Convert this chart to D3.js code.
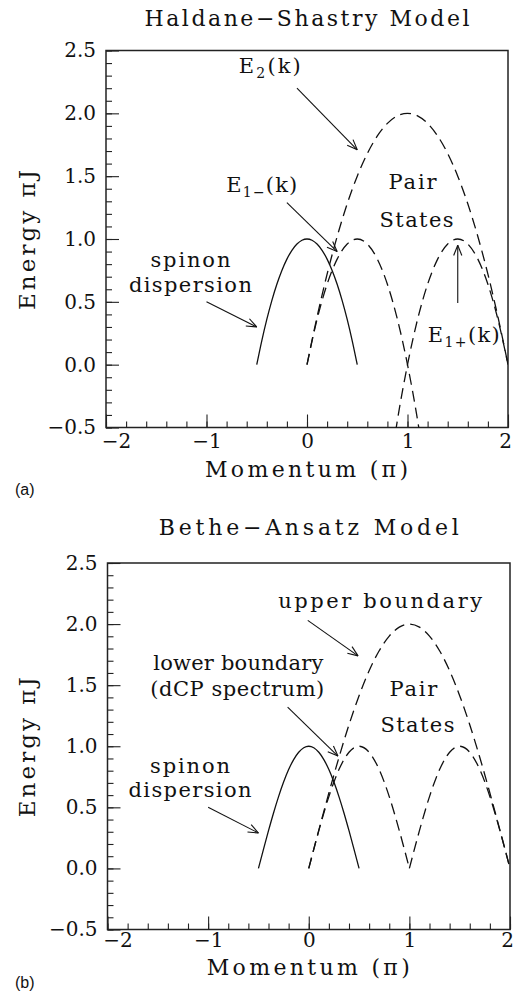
<!DOCTYPE html>
<html>
<head>
<meta charset="utf-8">
<script src="https://cdn.jsdelivr.net/npm/d3@7"></script>
<style>
  body { margin: 0; background: #fff; }
  svg { display: block; }
  text { font-family: "DejaVu Serif", serif; fill: #111; }
  .tag { font-family: "Liberation Sans", Arial, sans-serif; }
</style>
</head>
<body>
<svg id="chart" width="514" height="992"></svg>
<script>
// momentum grids (units of pi)
const kSpinon = [-0.5, -0.45, -0.4, -0.35, -0.3, -0.25, -0.2, -0.15, -0.1, -0.05, 0,
  0.05, 0.1, 0.15, 0.2, 0.25, 0.3, 0.35, 0.4, 0.45, 0.5];
const kUpper = [0, 0.1, 0.2, 0.3, 0.4, 0.5, 0.6, 0.7, 0.8, 0.9, 1,
  1.1, 1.2, 1.3, 1.4, 1.5, 1.6, 1.7, 1.8, 1.9, 2];

// (a) Haldane-Shastry, energies (units of pi J)
const hsSpinonE = [0, 0.19, 0.36, 0.51, 0.64, 0.75, 0.84, 0.91, 0.96, 0.99, 1,
  0.99, 0.96, 0.91, 0.84, 0.75, 0.64, 0.51, 0.36, 0.19, 0];
const hsUpperE = [0, 0.38, 0.72, 1.02, 1.28, 1.5, 1.68, 1.82, 1.92, 1.98, 2,
  1.98, 1.92, 1.82, 1.68, 1.5, 1.28, 1.02, 0.72, 0.38, 0];
const hsMinusK = [0, 0.1, 0.2, 0.3, 0.4, 0.5, 0.6, 0.7, 0.8, 0.9, 1, 1.1, 1.12];
const hsMinusE = [0, 0.36, 0.64, 0.84, 0.96, 1, 0.96, 0.84, 0.64, 0.36, 0, -0.44, -0.54];
const hsPlusK = [0.88, 0.9, 1, 1.1, 1.2, 1.3, 1.4, 1.5, 1.6, 1.7, 1.8, 1.9, 2];
const hsPlusE = [-0.54, -0.44, 0, 0.36, 0.64, 0.84, 0.96, 1, 0.96, 0.84, 0.64, 0.36, 0];

// (b) Bethe-Ansatz
const baSpinonE = [0, 0.156, 0.309, 0.454, 0.588, 0.707, 0.809, 0.891, 0.951, 0.988, 1,
  0.988, 0.951, 0.891, 0.809, 0.707, 0.588, 0.454, 0.309, 0.156, 0];
const baUpperE = [0, 0.313, 0.618, 0.908, 1.176, 1.414, 1.618, 1.782, 1.902, 1.975, 2,
  1.975, 1.902, 1.782, 1.618, 1.414, 1.176, 0.908, 0.618, 0.313, 0];
const baLowK1 = [0, 0.1, 0.2, 0.3, 0.4, 0.5, 0.6, 0.7, 0.8, 0.9, 1];
const baLowK2 = [1, 1.1, 1.2, 1.3, 1.4, 1.5, 1.6, 1.7, 1.8, 1.9, 2];
const baLowE = [0, 0.309, 0.588, 0.809, 0.951, 1, 0.951, 0.809, 0.588, 0.309, 0];

// axis ticks
const xMajor = [-2, -1, 0, 1, 2];
const xMinor = d3.range(-20, 21, 2).map(d => d / 10);
const yMajor = [-0.5, 0, 0.5, 1, 1.5, 2, 2.5];
const yMinor = d3.range(-5, 26, 1).map(d => d / 10);

const zip = (ks, es) => ks.map((k, i) => [k, es[i]]);

const panels = [
  {
    id: 'a', tag: '(a)', title: 'Haldane\u2212Shastry Model', titleW: 325,
    left: 106, right: 508, top: 50.5, bottom: 427.5,
    titleDy: 25, xlabDy: 49, tagDy: 67, xPad: 6,
    curves: [
      { pts: zip(kSpinon, hsSpinonE), dash: false },
      { pts: zip(kUpper, hsUpperE), dash: true },
      { pts: zip(hsMinusK, hsMinusE), dash: true },
      { pts: zip(hsPlusK, hsPlusE), dash: true }
    ],
    labels: [
      { parts: [['E'], ['2', 1], ['(k)']], x: -0.37, y: 2.38, w: 62 },
      { parts: [['E'], ['1\u2212', 1], ['(k)']], x: -0.45, y: 1.43, w: 71 },
      { parts: [['spinon']], x: -1.16, y: 0.83, w: 80 },
      { parts: [['dispersion']], x: -1.16, y: 0.63, w: 123 },
      { parts: [['Pair']], x: 1.05, y: 1.45, w: 48 },
      { parts: [['States']], x: 1.09, y: 1.15, w: 74 },
      { parts: [['E'], ['1+', 1], ['(k)']], x: 1.56, y: 0.24, w: 72 }
    ],
    arrows: [
      [-0.10, 2.20, 0.50, 1.71],
      [-0.20, 1.29, 0.30, 0.90],
      [-1.00, 0.50, -0.50, 0.30],
      [1.50, 0.49, 1.50, 0.95]
    ]
  },
  {
    id: 'b', tag: '(b)', title: 'Bethe\u2212Ansatz Model', titleW: 300,
    left: 107.5, right: 510, top: 563, bottom: 929.5,
    titleDy: 28, xlabDy: 45, tagDy: 58, xPad: 3,
    curves: [
      { pts: zip(kSpinon, baSpinonE), dash: false },
      { pts: zip(kUpper, baUpperE), dash: true },
      { pts: zip(baLowK1, baLowE), dash: true },
      { pts: zip(baLowK2, baLowE), dash: true }
    ],
    labels: [
      { parts: [['upper boundary']], x: 0.71, y: 2.19, w: 204 },
      { parts: [['lower boundary']], x: -0.70, y: 1.68, w: 170 },
      { parts: [['(dCP spectrum)']], x: -0.71, y: 1.47, w: 174 },
      { parts: [['spinon']], x: -1.18, y: 0.84, w: 80 },
      { parts: [['dispersion']], x: -1.18, y: 0.64, w: 123 },
      { parts: [['Pair']], x: 1.04, y: 1.47, w: 48 },
      { parts: [['States']], x: 1.08, y: 1.17, w: 74 }
    ],
    arrows: [
      [-0.01, 2.03, 0.49, 1.74],
      [-0.21, 1.32, 0.29, 0.92],
      [-1.00, 0.50, -0.50, 0.29]
    ]
  }
];

const svg = d3.select('#chart');

function arrow(g, x1, y1, x2, y2) {
  g.append('line').attr('x1', x1).attr('y1', y1).attr('x2', x2).attr('y2', y2);
  const a = Math.atan2(y2 - y1, x2 - x1);
  [0.38, -0.38].forEach(da => {
    g.append('line')
      .attr('x1', x2).attr('y1', y2)
      .attr('x2', x2 - 11 * Math.cos(a + da))
      .attr('y2', y2 - 11 * Math.sin(a + da));
  });
}

function drawPanel(p) {
  const x = d3.scaleLinear().domain([-2, 2]).range([p.left, p.right]);
  const y = d3.scaleLinear().domain([-0.5, 2.5]).range([p.bottom, p.top]);
  const g = svg.append('g');

  g.append('clipPath').attr('id', 'clip-' + p.id)
    .append('rect')
    .attr('x', p.left).attr('y', p.top)
    .attr('width', p.right - p.left).attr('height', p.bottom - p.top);

  // minor ticks
  g.append('g').attr('transform', `translate(0,${p.bottom})`)
    .call(d3.axisBottom(x).tickValues(xMinor).tickSize(-6).tickFormat(''))
    .call(s => s.select('.domain').remove());
  g.append('g').attr('transform', `translate(${p.left},0)`)
    .call(d3.axisLeft(y).tickValues(yMinor).tickSize(-6).tickFormat(''))
    .call(s => s.select('.domain').remove());

  // major ticks with labels
  const xa = g.append('g').attr('transform', `translate(0,${p.bottom})`)
    .call(d3.axisBottom(x).tickValues(xMajor).tickSize(-13).tickPadding(p.xPad).tickFormat(d3.format('d')))
    .call(s => s.select('.domain').remove());
  xa.selectAll('text').style('font-size', '20px')
    .attr('dx', d => d === -2 ? 10 : d === 2 ? -3 : 0);
  const ya = g.append('g').attr('transform', `translate(${p.left},0)`)
    .call(d3.axisLeft(y).tickValues(yMajor).tickSize(-13).tickPadding(10).tickFormat(d3.format('.1f')))
    .call(s => s.select('.domain').remove());
  ya.selectAll('text').style('font-size', '20px');
  g.selectAll('.tick line').attr('stroke', '#222').attr('stroke-width', 1.1);
  g.selectAll('.tick text').style('font-family', '"DejaVu Serif", serif').attr('fill', '#111');

  // frame
  g.append('rect')
    .attr('x', p.left).attr('y', p.top)
    .attr('width', p.right - p.left).attr('height', p.bottom - p.top)
    .attr('fill', 'none').attr('stroke', '#222').attr('stroke-width', 1.5);

  // curves
  const line = d3.line().x(d => x(d[0])).y(d => y(d[1])).curve(d3.curveMonotoneX);
  g.append('g').attr('clip-path', `url(#clip-${p.id})`)
    .selectAll('path').data(p.curves).join('path')
    .attr('d', d => line(d.pts))
    .attr('fill', 'none').attr('stroke', '#111').attr('stroke-width', 1.3)
    .attr('stroke-dasharray', d => d.dash ? '11,6' : null);

  // annotations
  p.labels.forEach(l => {
    const t = g.append('text')
      .attr('x', x(l.x)).attr('y', y(l.y) + 7)
      .attr('text-anchor', 'middle')
      .style('font-size', '21px');
    if (l.w) t.attr('textLength', l.w).attr('lengthAdjust', 'spacing');
    let shift = 0;
    l.parts.forEach(([s, sub]) => {
      const ts = t.append('tspan').text(s);
      const want = sub ? 5 : 0;
      if (want !== shift) ts.attr('dy', want - shift);
      shift = want;
      if (sub) ts.style('font-size', '14px');
    });
  });
  const ag = g.append('g').attr('stroke', '#111').attr('stroke-width', 1.1);
  p.arrows.forEach(a => arrow(ag, x(a[0]), y(a[1]), x(a[2]), y(a[3])));

  // titles
  g.append('text')
    .attr('x', (p.left + p.right) / 2).attr('y', p.top - p.titleDy)
    .attr('text-anchor', 'middle').style('font-size', '22px')
    .attr('textLength', p.titleW).attr('lengthAdjust', 'spacing')
    .text(p.title);
  g.append('text')
    .attr('x', (p.left + p.right) / 2 - 0.5).attr('y', p.bottom + p.xlabDy)
    .attr('text-anchor', 'middle').style('font-size', '22px')
    .attr('textLength', 203).attr('lengthAdjust', 'spacing')
    .text('Momentum  (\u03c0)');
  const yc = (p.top + p.bottom) / 2 + 1;
  g.append('text')
    .attr('transform', `translate(35,${yc}) rotate(-90)`)
    .attr('text-anchor', 'middle').style('font-size', '23px')
    .attr('textLength', 140).attr('lengthAdjust', 'spacing')
    .text('Energy  \u03c0J');
  g.append('text').attr('class', 'tag')
    .attr('x', 15).attr('y', p.bottom + p.tagDy)
    .style('font-size', '16px')
    .text(p.tag);
}

panels.forEach(drawPanel);
</script>
</body>
</html>
